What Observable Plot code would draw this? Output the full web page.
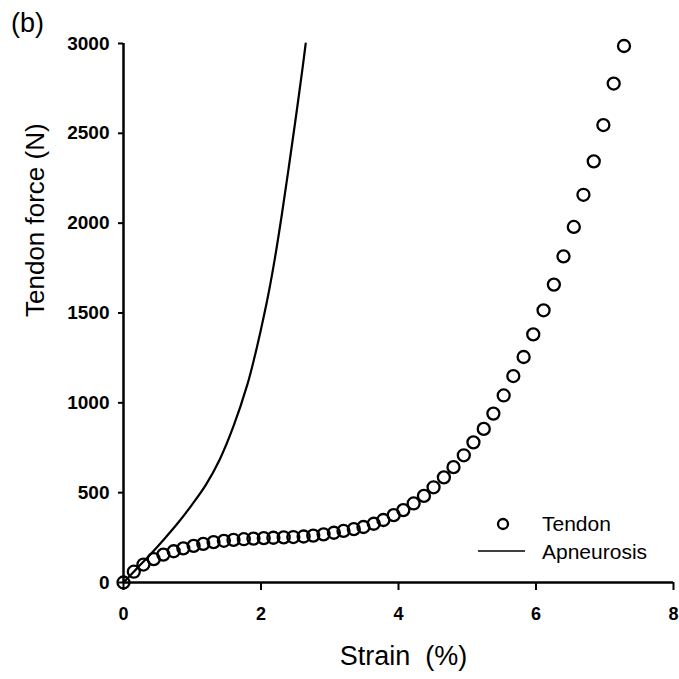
<!DOCTYPE html>
<html><head><meta charset="utf-8">
<script src="https://cdn.jsdelivr.net/npm/d3@7"></script>
<script src="https://cdn.jsdelivr.net/npm/@observablehq/plot@0.6"></script>
<style>
body{margin:0;background:#fff;}
#wrap{position:relative;width:679px;height:679px;font-family:"Liberation Sans",Arial,sans-serif;color:#000;}
#panel{position:absolute;left:11px;top:10px;font-size:27px;line-height:1;}
#legend{position:absolute;left:475px;top:510px;font-size:21px;}
#legend .row{display:flex;align-items:center;height:28px;}
#legend svg{width:56px;height:28px;margin-right:11px;}
</style></head><body>
<div id="wrap"><div id="panel">(b)</div><div id="chart"></div><div id="legend"></div></div>
<script>
const tendonStrain = [0.00,0.15,0.29,0.44,0.58,0.73,0.87,1.02,1.16,1.31,1.46,1.60,1.75,1.89,2.04,2.18,2.33,2.47,2.62,2.76,2.91,3.06,3.20,3.35,3.49,3.64,3.78,3.93,4.07,4.22,4.37,4.51,4.66,4.80,4.95,5.09,5.24,5.38,5.53,5.67,5.82,5.96,6.11,6.26,6.40,6.55,6.69,6.84,6.98,7.13,7.28];
const tendonForce = [0,60,100,130,155,174,190,204,215,225,232,237,241,244,247,249,251,253,256,261,268,277,287,297,309,327,348,375,403,440,482,530,585,642,708,780,855,940,1041,1149,1255,1381,1515,1658,1815,1979,2158,2344,2546,2777,2986];
const apoStrain = [0,0.2,0.4,0.6,0.8,1.0,1.2,1.4,1.6,1.8,1.9,2.0,2.1,2.2,2.3,2.4,2.5,2.6,2.65];
const apoForce = [0,80,160,245,335,435,545,685,870,1100,1245,1410,1590,1800,2040,2300,2570,2850,3000];
const xTicks = [0,2,4,6,8];
const yTicks = [0,500,1000,1500,2000,2500,3000];
const seriesNames = ["Tendon","Apneurosis"];
const xTitle = "Strain\u00a0 (%)";
const yTitle = "Tendon force (N)";

const tendon = tendonStrain.map((x,i)=>({x, y: tendonForce[i]}));
const apo = apoStrain.map((x,i)=>({x, y: apoForce[i]}));

const font = "'Liberation Sans', Arial, sans-serif";
const chart = Plot.plot({
  width: 679, height: 679,
  marginLeft: 123, marginRight: 6, marginTop: 43, marginBottom: 97,
  style: {fontFamily: font, background: "white", color: "black", overflow: "visible"},
  x: {domain: [0,8]},
  y: {domain: [0,3000]},
  marks: [
    Plot.axisX({ticks: xTicks, tickSize: 8, tickPadding: 17, fontSize: 18, fontWeight: "bold", label: null, strokeWidth: 2, tickFormat: d=>String(d)}),
    Plot.axisY({ticks: yTicks, tickSize: 5, tickPadding: 9, fontSize: 19, fontWeight: "bold", label: null, strokeWidth: 2, tickFormat: d=>String(d)}),
    Plot.ruleY([0], {strokeWidth: 2.5}),
    Plot.ruleX([0], {strokeWidth: 2.5}),
    Plot.line(apo, {x: "x", y: "y", curve: "catmull-rom", stroke: "black", strokeWidth: 2.2}),
    Plot.dot(tendon, {x: "x", y: "y", r: 6, stroke: "black", strokeWidth: 2.3, fill: "none"}),
    Plot.text([xTitle], {frameAnchor: "bottom", text: d=>d, dx: 5, dy: 82, fontSize: 27}),
    Plot.text([yTitle], {frameAnchor: "left", text: d=>d, dx: -88, dy: 4, rotate: -90, fontSize: 26})
  ]
});
document.getElementById("chart").appendChild(chart);

const legend = document.getElementById("legend");
seriesNames.forEach((name, i) => {
  const row = document.createElement("div");
  row.className = "row";
  const sym = i === 0
    ? '<svg viewBox="0 0 56 28"><circle cx="28" cy="14" r="5" fill="none" stroke="black" stroke-width="2.3"/></svg>'
    : '<svg viewBox="0 0 56 28"><line x1="3" x2="50" y1="13" y2="13" stroke="black" stroke-width="1.4"/></svg>';
  row.innerHTML = sym + '<span>' + name + '</span>';
  legend.appendChild(row);
});
</script>
</body></html>
